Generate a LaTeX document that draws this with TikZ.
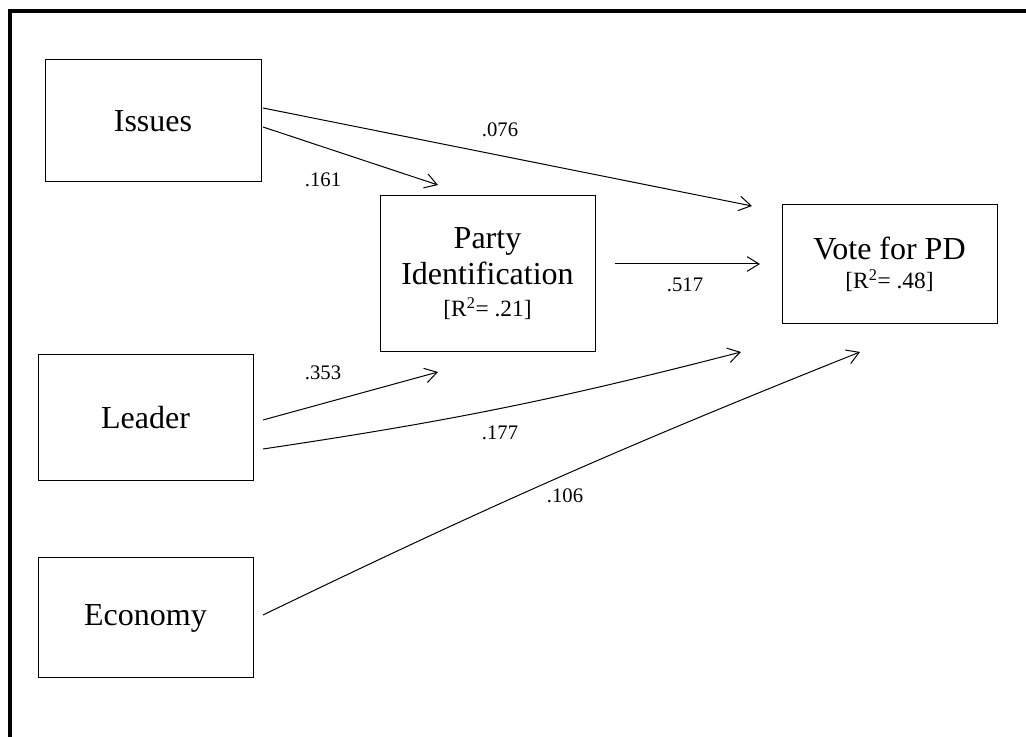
\documentclass[tikz,border=0pt]{standalone}
\usepackage{fontspec}
\setmainfont{Liberation Serif}
\usetikzlibrary{arrows.meta}
\tikzset{
  box/.style={draw, line width=0.75pt, inner sep=0pt, align=center, font=\fontsize{24}{27}\selectfont},
  conn/.style={line width=0.75pt, -{Straight Barb[length=9pt,width=11pt,line width=0.75pt]}},
  coef/.style={font=\fontsize{15.5}{18}\selectfont, inner sep=0pt}
}
\newcommand{\rsq}[1]{{\fontsize{17.5}{20}\selectfont [R\textsuperscript{2}= #1]}}
\begin{document}
\begin{tikzpicture}[x=0.75pt,y=-0.75pt]
\useasboundingbox (0,0) rectangle (1026,737);
\draw[line width=3pt] (10,11) rectangle (1040,760);
% boxes
\node[box, minimum width=162pt, minimum height=91.5pt] (iss) at (153,121) {Issues};
\node[box, minimum width=161.25pt, minimum height=117pt] (pid) at (487.5,274) {Party\\Identification\\[-3pt]\rsq{.21}};
\node[box, minimum width=161.25pt, minimum height=89.25pt] (vote) at (889.5,264.5) {Vote for PD\\[-5pt]\rsq{.48}};
\node[box, minimum width=161.25pt, minimum height=94.5pt] (lead) at (145.5,418) {Leader};
\node[box, minimum width=161.25pt, minimum height=90pt] (econ) at (145.5,618) {Economy};
% connector endpoints
\coordinate (iss-a) at (263,108);
\coordinate (iss-b) at (263,127);
\coordinate (lead-a) at (263,420);
\coordinate (lead-b) at (263,449);
\coordinate (econ-a) at (263,615);
\coordinate (pid-a) at (615,264);
\coordinate (pid-in1) at (438,185);
\coordinate (pid-in2) at (438,372);
\coordinate (vote-in1) at (752,206);
\coordinate (vote-in2) at (760,264);
\coordinate (vote-in3) at (741,352);
\coordinate (vote-in4) at (860,352);
% connectors
\draw[conn] (iss-a) -- (vote-in1);
\draw[conn] (iss-b) -- (pid-in1);
\draw[conn] (pid-a) -- (vote-in2);
\draw[conn] (lead-a) -- (pid-in2);
\draw[conn] (lead-b) to[bend right=3] (vote-in3);
\draw[conn] (econ-a) to[bend left=2] (vote-in4);
% coefficients
\node[coef] (c076) at (500,130) {.076};
\node[coef] (c161) at (323,180) {.161};
\node[coef] (c517) at (685,285) {.517};
\node[coef] (c353) at (323,373) {.353};
\node[coef] (c177) at (500,433) {.177};
\node[coef] (c106) at (565,496) {.106};
\end{tikzpicture}
\end{document}
